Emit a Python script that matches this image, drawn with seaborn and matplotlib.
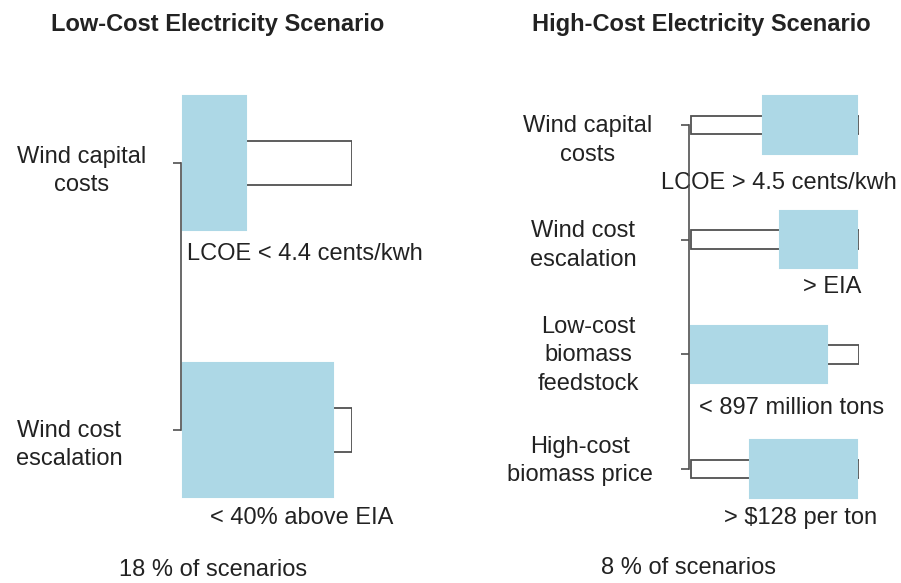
import numpy as np
import matplotlib
matplotlib.use("Agg")
import matplotlib.pyplot as plt
import seaborn as sns

# data: share of each factor's full range (0..1) that defines the scenario box
low_factors = ["Wind capital\ncosts", "Wind cost\nescalation"]
low_lo = [0.0, 0.0]
low_hi = [0.37, 0.89]
low_notes = ["LCOE < 4.4 cents/kwh", "< 40% above EIA"]
low_share = "18 % of scenarios"

high_factors = ["Wind capital\ncosts", "Wind cost\nescalation",
                "Low-cost\nbiomass\nfeedstock", "High-cost\nbiomass price"]
high_lo = [0.43, 0.53, 0.0, 0.35]
high_hi = [0.99, 0.99, 0.81, 0.99]
high_notes = ["LCOE > 4.5 cents/kwh", "> EIA", "< 897 million tons", "> $128 per ton"]
high_share = "8 % of scenarios"

sns.set_theme(style="white")
plt.rcParams["font.family"] = ["Liberation Sans", "DejaVu Sans"]

BLUE = "#add8e6"
LINE = "#505050"
TXT = "#222222"
FS = 17

fig = plt.figure(figsize=(9.01, 5.83), dpi=100)


def draw_panel(ax, factors, lo, hi, notes, label_pos, note_pos):
    n = len(factors)
    full = np.ones(n)
    # full range of each factor as a thin open box
    sns.barplot(x=full, y=factors, orient="h", ax=ax, width=0.165,
                color="white", edgecolor=LINE, linewidth=1.3, saturation=1)
    # restricted range that characterises the scenario
    ax.barh(np.arange(n), np.array(hi) - np.array(lo), left=lo, height=0.5,
            color=BLUE, edgecolor=BLUE, linewidth=1.5, zorder=3)
    ax.set_xlim(-0.014, 1.0)
    ax.set_ylim(n - 0.5, -0.5)
    ax.set_xticks([])
    ax.set_xlabel("")
    ax.set_ylabel("")
    ax.tick_params(axis="y", left=True, length=6, width=1.2, color=LINE,
                   labelleft=False)
    sns.despine(ax=ax, bottom=True, trim=True)
    ax.spines["left"].set_color(LINE)
    ax.spines["left"].set_linewidth(1.2)
    ax.spines["left"].set_zorder(6)
    trans = ax.get_yaxis_transform()
    for i, (name, (x, dy)) in enumerate(zip(factors, label_pos)):
        ax.text(x, i + dy, name, transform=trans, ha="center", va="center",
                multialignment="center", linespacing=1.4, fontsize=FS,
                color=TXT, clip_on=False)
    for i, (txt, (x, dy)) in enumerate(zip(notes, note_pos)):
        ax.text(x, i + dy, txt, ha="center", va="center", fontsize=FS,
                color=TXT, clip_on=False, zorder=5)


ax1 = fig.add_axes([181 / 901, 1 - 563.5 / 583, 171 / 901, 534 / 583])
draw_panel(ax1, low_factors, low_lo, low_hi, low_notes,
           [(-0.579, 0.03), (-0.655, 0.056)],
           [(0.72, 0.34), (0.70, 0.33)])

ax2 = fig.add_axes([689 / 901, 1 - 526.35 / 583, 170 / 901, 458.7 / 583])
draw_panel(ax2, high_factors, high_lo, high_hi, high_notes,
           [(-0.594, 0.135), (-0.624, 0.048), (-0.594, 0.01), (-0.641, -0.07)],
           [(0.52, 0.51), (0.84, 0.41), (0.60, 0.47), (0.65, 0.43)])

fig.text(217.5 / 901, 1 - 25 / 583, "Low-Cost Electricity Scenario",
         ha="center", va="center", fontsize=17, fontweight="bold", color=TXT)
fig.text(701.5 / 901, 1 - 24 / 583, "High-Cost Electricity Scenario",
         ha="center", va="center", fontsize=17, fontweight="bold", color=TXT)
fig.text(213.5 / 901, 1 - 570 / 583, low_share, ha="center", va="center",
         fontsize=FS, color=TXT)
fig.text(688.5 / 901, 1 - 568 / 583, high_share, ha="center", va="center",
         fontsize=FS, color=TXT)

fig.savefig("out.png", dpi=100)
